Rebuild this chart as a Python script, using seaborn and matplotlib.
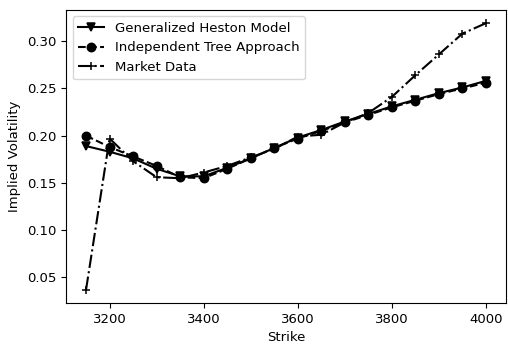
import matplotlib
matplotlib.use("Agg")
import matplotlib.pyplot as plt
import seaborn as sns
import pandas as pd

strikes = [3150, 3200, 3250, 3300, 3350, 3400, 3450, 3500, 3550,
           3600, 3650, 3700, 3750, 3800, 3850, 3900, 3950, 4000]

heston_iv = [0.189, 0.183, 0.176, 0.165, 0.157, 0.157, 0.166, 0.176, 0.187,
             0.198, 0.206, 0.215, 0.223, 0.231, 0.238, 0.245, 0.251, 0.258]

tree_iv = [0.200, 0.188, 0.178, 0.168, 0.156, 0.155, 0.165, 0.176, 0.187,
           0.197, 0.205, 0.214, 0.222, 0.230, 0.237, 0.244, 0.250, 0.256]

market_iv = [0.037, 0.197, 0.173, 0.156, 0.155, 0.161, 0.168, 0.177, 0.186,
             0.199, 0.201, 0.214, 0.224, 0.241, 0.264, 0.286, 0.308, 0.319]

series = [
    ("Generalized Heston Model", heston_iv, "-", "v"),
    ("Independent Tree Approach", tree_iv, "--", "o"),
    ("Market Data", market_iv, "-.", "+"),
]

plt.rcParams["font.size"] = 9.5

fig = plt.figure(figsize=(5.08, 3.52), dpi=100)
ax = fig.add_axes([0.130, 0.139, 0.866, 0.833])

for name, vals, ls, mk in series:
    df = pd.DataFrame({"Strike": strikes, "iv": vals})
    sns.lineplot(data=df, x="Strike", y="iv", ax=ax, color="black",
                 linestyle=ls, marker=mk, markersize=6, linewidth=1.5,
                 markeredgecolor="black", markeredgewidth=1.1, label=name)

ax.set_xlabel("Strike")
ax.set_ylabel("Implied Volatility")
ax.set_xticks([3200, 3400, 3600, 3800, 4000])
ax.set_yticks([0.05, 0.10, 0.15, 0.20, 0.25, 0.30])
ax.legend(loc="upper left")

fig.savefig("out.png", dpi=100)
